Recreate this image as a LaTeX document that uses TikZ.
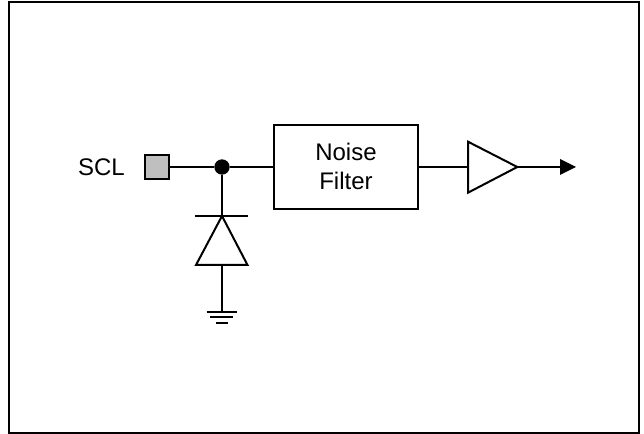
\documentclass[tikz,border=0pt]{standalone}
\usepackage{fontspec}
\setmainfont{Liberation Sans}
\tikzset{
  px/.style={x=0.75pt,y=-0.75pt},
  wire/.style={draw=black,line width=1.5pt},
  lbl/.style={font=\fontsize{18}{21.5}\selectfont,inner sep=0pt,align=center},
}
\begin{document}
\begin{tikzpicture}[px]
\useasboundingbox (0,0) rectangle (644,434);
\draw[line width=1.5pt] (9,2) rectangle (638.5,433);
\node[lbl] (scl) at (101.5,167.5) {SCL};
\node[wire,fill=black!25,minimum size=18pt,inner sep=0pt,outer sep=0pt,rectangle] (pad) at (157,167) {};
\node[circle,fill=black,minimum size=11.5pt,inner sep=0pt,outer sep=0pt] (dot) at (222,167) {};
\node[wire,rectangle,lbl,minimum width=108pt,minimum height=63pt,outer sep=0pt] (filter) at (346,167) {Noise\\Filter\rule[-1.5pt]{0pt}{1pt}};
\coordinate (buffL) at (468,167);
\coordinate (buffT) at (468,141.7);
\coordinate (buffB) at (468,192.7);
\coordinate (buffR) at (517.3,167);
\draw[wire,line join=miter] (buffT) -- (buffR) -- (buffB) -- cycle;
\coordinate (arrowB) at (560,167);
\coordinate (arrowT) at (576,167);
\fill (560,159) -- (arrowT) -- (560,175) -- cycle;
\coordinate (dA) at (222,216);
\coordinate (dB) at (222,265);
\draw[wire] (195,216) -- (248,216);
\draw[wire] (dA) -- (247.5,265) -- (196,265) -- cycle;
\coordinate (g1) at (222,312);
\draw[wire] (pad) -- (dot);
\draw[wire] (dot) -- (filter);
\draw[wire] (filter) -- (buffL);
\draw[wire] (buffR) -- (arrowB);
\draw[wire] (dot) -- (dA);
\draw[wire] (dB) -- (g1);
\draw[wire] (206.7,312) -- (237,312);
\draw[wire] (210,317.5) -- (233,317.5);
\draw[wire] (215.5,323) -- (228,323);
\end{tikzpicture}
\end{document}
